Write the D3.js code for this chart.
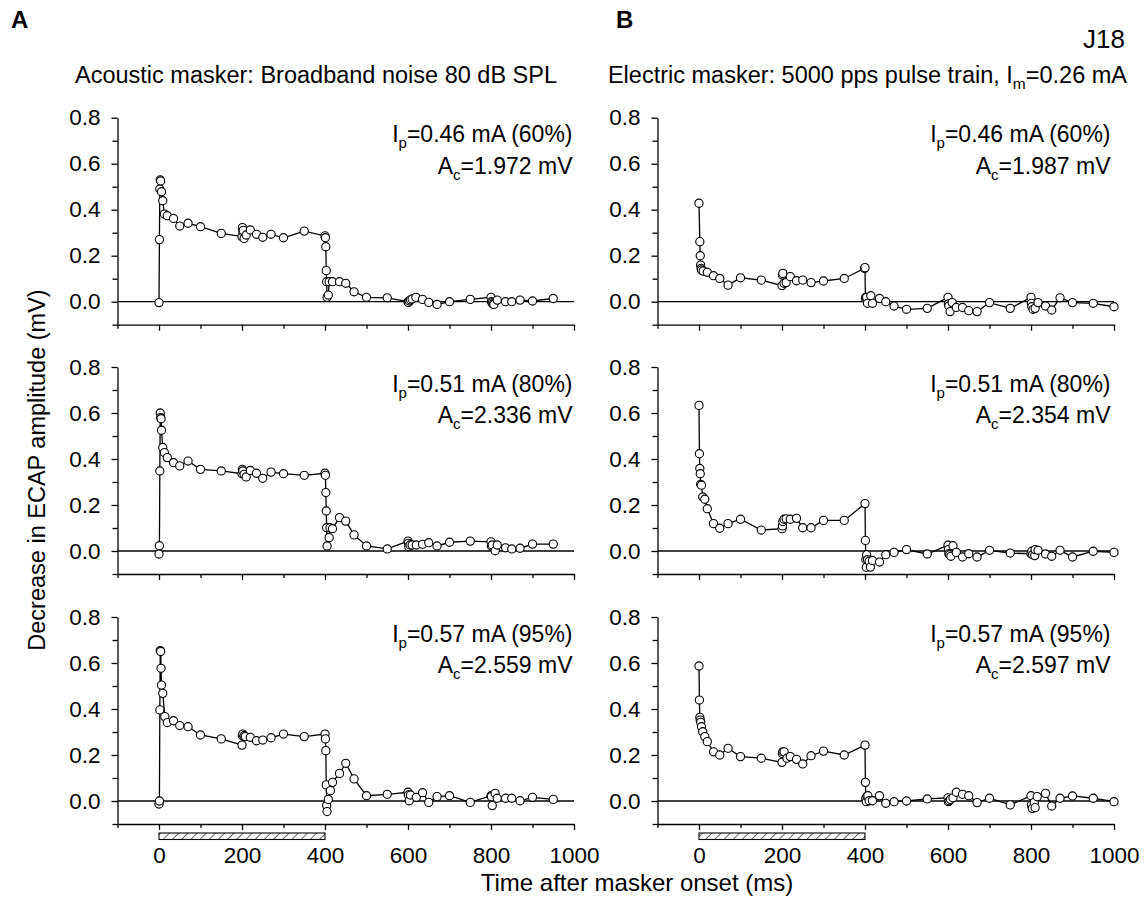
<!DOCTYPE html>
<html>
<head>
<meta charset="utf-8">
<script src="https://cdn.jsdelivr.net/npm/d3@7"></script>
<style>
  html, body { margin: 0; padding: 0; background: #fff; }
  svg { display: block; font-family: "Liberation Sans", Arial, Helvetica, sans-serif; }
</style>
</head>
<body>
<script>
// ---- Data: decrease in ECAP amplitude (mV) vs. time after masker onset (ms) ----

// Acoustic masker, probe 0.46 mA (60%)
const acoustic60Time = [0, 1, 2, 3, 4, 6, 9, 13, 20, 35, 50, 70, 100, 150, 200, 201, 202, 203, 205, 210, 220, 235, 250, 270, 300, 350, 400, 401, 402, 403, 404, 405, 408, 410, 418, 435, 450, 470, 500, 550, 600, 601, 603, 606, 610, 619, 635, 650, 670, 700, 750, 800, 801, 803, 805, 807, 815, 835, 850, 870, 900, 950];
const acoustic60Value = [-0.004, 0.27, 0.49, 0.53, 0.525, 0.478, 0.439, 0.381, 0.374, 0.362, 0.329, 0.341, 0.326, 0.297, 0.283, 0.322, 0.304, 0.31, 0.275, 0.29, 0.312, 0.293, 0.28, 0.293, 0.278, 0.307, 0.286, 0.278, 0.239, 0.135, 0.087, 0.019, 0.029, 0.087, 0.087, 0.087, 0.08, 0.043, 0.019, 0.017, 0.0, -0.003, 0.003, 0.008, 0.012, 0.019, 0.01, -0.003, -0.012, 0.0, 0.01, 0.019, 0.0, -0.005, -0.01, -0.012, 0.007, 0.0, 0.0, 0.007, 0.003, 0.014];

// Acoustic masker, probe 0.51 mA (80%)
const acoustic80Time = [0, 1, 2, 3, 4, 5, 6, 9, 13, 20, 35, 50, 70, 100, 150, 200, 201, 202, 205, 210, 220, 235, 250, 270, 300, 350, 400, 401, 402, 403, 404, 405, 410, 412, 418, 435, 450, 470, 500, 550, 600, 601, 602, 605, 610, 620, 635, 650, 670, 700, 750, 800, 801, 803, 810, 815, 835, 850, 870, 900, 950];
const acoustic80Value = [-0.013, 0.023, 0.348, 0.6, 0.58, 0.575, 0.525, 0.45, 0.428, 0.406, 0.384, 0.37, 0.391, 0.355, 0.348, 0.336, 0.355, 0.348, 0.333, 0.322, 0.35, 0.338, 0.316, 0.343, 0.336, 0.329, 0.338, 0.329, 0.254, 0.174, 0.101, 0.022, 0.058, 0.101, 0.097, 0.145, 0.13, 0.07, 0.022, 0.009, 0.043, 0.033, 0.019, 0.026, 0.026, 0.026, 0.029, 0.036, 0.022, 0.038, 0.043, 0.04, 0.022, 0.026, 0.001, 0.026, 0.014, 0.009, 0.012, 0.03, 0.03];

// Acoustic masker, probe 0.57 mA (95%)
const acoustic95Time = [0, 1, 2, 3, 4, 5, 6, 9, 14, 20, 35, 50, 70, 100, 150, 200, 201, 202, 205, 208, 220, 235, 250, 270, 300, 350, 400, 401, 402, 403, 404, 405, 408, 413, 418, 435, 450, 470, 500, 550, 600, 601, 603, 606, 620, 635, 650, 670, 700, 750, 800, 801, 803, 810, 815, 835, 850, 870, 900, 950];
const acoustic95Value = [-0.013, 0.0, 0.396, 0.654, 0.65, 0.577, 0.504, 0.468, 0.367, 0.341, 0.349, 0.328, 0.323, 0.287, 0.27, 0.243, 0.284, 0.291, 0.284, 0.28, 0.277, 0.262, 0.265, 0.275, 0.291, 0.28, 0.291, 0.27, 0.219, 0.07, -0.02, -0.046, 0.007, 0.045, 0.081, 0.12, 0.164, 0.096, 0.023, 0.029, 0.038, 0.026, 0.001, 0.026, 0.016, 0.036, -0.006, 0.019, 0.023, -0.006, 0.023, 0.019, -0.02, 0.033, 0.012, 0.012, 0.012, 0.001, 0.016, 0.007];

// Electric masker, probe 0.46 mA (60%)
const electric60Time = [0, 2, 3, 4, 5, 6, 10, 20, 35, 50, 70, 100, 150, 200, 201, 202, 205, 210, 220, 235, 250, 270, 300, 350, 399, 400, 401, 402, 404, 406, 414, 418, 435, 450, 470, 500, 550, 600, 601, 602, 605, 610, 620, 635, 650, 670, 700, 750, 800, 801, 802, 805, 810, 817, 835, 850, 870, 900, 950, 1000];
const electric60Value = [0.428, 0.261, 0.2, 0.159, 0.145, 0.138, 0.133, 0.128, 0.113, 0.101, 0.072, 0.104, 0.094, 0.07, 0.116, 0.123, 0.08, 0.083, 0.109, 0.091, 0.094, 0.083, 0.09, 0.101, 0.145, 0.148, 0.014, 0.019, 0.019, -0.007, 0.026, -0.007, 0.014, 0.0, -0.019, -0.033, -0.029, 0.019, -0.01, -0.019, -0.043, -0.004, -0.025, -0.025, -0.039, -0.043, -0.004, -0.029, 0.019, -0.007, -0.022, -0.033, -0.029, -0.004, -0.019, -0.036, 0.017, -0.004, -0.007, -0.022];

// Electric masker, probe 0.51 mA (80%)
const electric80Time = [0, 1, 2, 3, 4, 6, 9, 14, 20, 35, 50, 70, 100, 150, 200, 201, 202, 205, 210, 220, 235, 250, 270, 300, 350, 400, 401, 402, 403, 404, 406, 410, 413, 418, 435, 450, 470, 500, 550, 600, 601, 602, 604, 607, 612, 620, 635, 650, 670, 700, 750, 800, 802, 804, 809, 810, 817, 835, 850, 870, 900, 950, 1000];
const electric80Value = [0.633, 0.423, 0.359, 0.336, 0.29, 0.286, 0.235, 0.225, 0.184, 0.119, 0.099, 0.119, 0.138, 0.091, 0.097, 0.109, 0.128, 0.138, 0.14, 0.138, 0.142, 0.101, 0.101, 0.133, 0.133, 0.206, 0.046, -0.038, -0.071, -0.016, -0.038, -0.045, -0.07, -0.041, -0.048, -0.016, -0.006, 0.006, -0.013, 0.025, 0.006, -0.012, -0.016, -0.023, 0.023, -0.006, -0.026, -0.012, -0.026, 0.003, -0.009, -0.012, -0.001, -0.016, -0.02, 0.006, 0.003, -0.013, -0.023, 0.003, -0.026, -0.001, -0.006];

// Electric masker, probe 0.57 mA (95%)
const electric95Time = [0, 1, 2, 3, 4, 6, 9, 14, 20, 35, 50, 70, 100, 150, 200, 201, 202, 205, 212, 220, 235, 250, 270, 300, 350, 400, 401, 402, 403, 405, 407, 410, 418, 435, 450, 470, 500, 550, 600, 601, 603, 606, 612, 620, 635, 650, 670, 700, 750, 800, 801, 803, 808, 810, 815, 835, 850, 870, 900, 950, 1000];
const electric95Value = [0.587, 0.439, 0.364, 0.352, 0.342, 0.323, 0.301, 0.28, 0.258, 0.214, 0.2, 0.229, 0.193, 0.186, 0.168, 0.207, 0.214, 0.214, 0.186, 0.193, 0.181, 0.161, 0.197, 0.217, 0.2, 0.243, 0.081, 0.012, -0.003, 0.02, 0.023, 0.001, 0.001, 0.023, -0.01, -0.003, 0.0, 0.009, 0.014, -0.003, 0.001, 0.007, 0.014, 0.038, 0.029, 0.023, -0.007, 0.012, -0.017, 0.023, -0.017, -0.032, -0.006, -0.029, 0.019, 0.033, -0.022, 0.012, 0.022, 0.012, -0.003];

// Panel annotations
const probeLabels = ["0.46 mA (60%)", "0.51 mA (80%)", "0.57 mA (95%)"];
const acousticAc = ["1.972 mV", "2.336 mV", "2.559 mV"];
const electricAc = ["1.987 mV", "2.354 mV", "2.597 mV"];

// Axis ticks
const yMajorTicks = [0, 0.2, 0.4, 0.6, 0.8];
const yMinorTicks = [-0.1, 0.1, 0.3, 0.5, 0.7];
const xMajorTicks = [0, 200, 400, 600, 800, 1000];
const xMinorTicks = [-100, 100, 300, 500, 700, 900];
const maskerInterval = [0, 400];

// ---- Layout ----
const W = 1146, H = 902;
const colLeft = [117.5, 657.5];
const plotW = 456.5;
const rowTop = [117.7, 367, 617];
const plotH = 207;
const TICK_FONT = 22.5;

const svg = d3.select("body").append("svg")
  .attr("width", W).attr("height", H)
  .attr("viewBox", `0 0 ${W} ${H}`);

// diagonal hatch for the masker bar
const defs = svg.append("defs");
defs.append("pattern")
  .attr("id", "hatch")
  .attr("patternUnits", "userSpaceOnUse")
  .attr("width", 6.5).attr("height", 6.5)
  .attr("patternTransform", "rotate(45)")
  .append("line")
  .attr("x1", 0).attr("y1", 0).attr("x2", 0).attr("y2", 6.5)
  .attr("stroke", "#000").attr("stroke-width", 1.2);

const columns = [
  { series: [[acoustic60Time, acoustic60Value], [acoustic80Time, acoustic80Value], [acoustic95Time, acoustic95Value]], ac: acousticAc },
  { series: [[electric60Time, electric60Value], [electric80Time, electric80Value], [electric95Time, electric95Value]], ac: electricAc }
];

columns.forEach((col, ci) => {
  const x = d3.scaleLinear().domain([-100, 1000]).range([colLeft[ci], colLeft[ci] + plotW]);
  col.series.forEach(([times, values], ri) => {
    const y = d3.scaleLinear().domain([-0.1, 0.8]).range([rowTop[ri] + plotH, rowTop[ri]]);
    const g = svg.append("g");
    const isBottom = ri === 2;

    // y axis: labelled major ticks and unlabelled minor ticks
    g.append("g").attr("transform", `translate(${x(-100)},0)`)
      .call(d3.axisLeft(y).tickValues(yMajorTicks).tickSize(6).tickSizeOuter(0)
        .tickPadding(11).tickFormat(d3.format(".1f")));
    g.append("g").attr("transform", `translate(${x(-100)},0)`)
      .call(d3.axisLeft(y).tickValues(yMinorTicks).tickSize(5).tickSizeOuter(0).tickFormat(""))
      .select(".domain").remove();

    // x axis
    g.append("g").attr("transform", `translate(0,${y(-0.1)})`)
      .call(d3.axisBottom(x).tickValues(xMajorTicks).tickSize(6).tickSizeOuter(0)
        .tickPadding(17).tickFormat(isBottom ? d3.format("d") : ""));
    g.append("g").attr("transform", `translate(0,${y(-0.1)})`)
      .call(d3.axisBottom(x).tickValues(xMinorTicks).tickSize(4).tickSizeOuter(0).tickFormat(""))
      .select(".domain").remove();

    g.selectAll(".domain, .tick line").attr("stroke", "#000").attr("stroke-width", 1.3);
    g.selectAll(".tick text").attr("font-size", TICK_FONT).attr("fill", "#000")
      .attr("font-family", "Liberation Sans, Arial, sans-serif");

    // zero reference line
    g.append("line")
      .attr("x1", x(-100)).attr("x2", x(1000))
      .attr("y1", y(0)).attr("y2", y(0))
      .attr("stroke", "#000").attr("stroke-width", 1.3);

    // data trace
    const pts = times.map((t, i) => [t, values[i]]);
    g.append("path")
      .datum(pts)
      .attr("fill", "none").attr("stroke", "#000").attr("stroke-width", 1.3)
      .attr("d", d3.line().x(d => x(d[0])).y(d => y(d[1])));
    g.selectAll("circle").data(pts).join("circle")
      .attr("cx", d => x(d[0])).attr("cy", d => y(d[1]))
      .attr("r", 4.1)
      .attr("fill", "#fff").attr("stroke", "#000").attr("stroke-width", 1.1);

    // probe level and control amplitude
    const tx = x(1000) - (ci === 0 ? 1.5 : 3.5);
    const t1 = g.append("text").attr("x", tx).attr("y", rowTop[ri] + 24.5)
      .attr("text-anchor", "end").attr("font-size", 23);
    t1.append("tspan").text("I");
    t1.append("tspan").attr("font-size", 15).attr("dy", 6).text("p");
    t1.append("tspan").attr("dy", -6).text("=" + probeLabels[ri]);
    const t2 = g.append("text").attr("x", tx).attr("y", rowTop[ri] + 56)
      .attr("text-anchor", "end").attr("font-size", 23);
    t2.append("tspan").text("A");
    t2.append("tspan").attr("font-size", 15).attr("dy", 6).text("c");
    t2.append("tspan").attr("dy", -6).text("=" + col.ac[ri]);

    // masker-on bar under the bottom panels
    if (isBottom) {
      g.append("rect")
        .attr("x", x(maskerInterval[0])).attr("width", x(maskerInterval[1]) - x(maskerInterval[0]))
        .attr("y", y(-0.1) + 9).attr("height", 6.5)
        .attr("fill", "url(#hatch)").attr("stroke", "#000").attr("stroke-width", 1.1);
    }
  });
});

// ---- Headers and axis titles ----
svg.append("text").attr("x", 11).attr("y", 28).attr("font-size", 24).attr("font-weight", "bold").text("A");
svg.append("text").attr("x", 616).attr("y", 28).attr("font-size", 24).attr("font-weight", "bold").text("B");
svg.append("text").attr("x", 1125).attr("y", 48).attr("text-anchor", "end").attr("font-size", 26).text("J18");

svg.append("text").attr("x", 316).attr("y", 83).attr("text-anchor", "middle").attr("font-size", 23.5)
  .text("Acoustic masker: Broadband noise 80 dB SPL");
const eTitle = svg.append("text").attr("x", 1127).attr("y", 83).attr("text-anchor", "end").attr("font-size", 23.5);
eTitle.append("tspan").text("Electric masker: 5000 pps pulse train, I");
eTitle.append("tspan").attr("font-size", 15.5).attr("dy", 6).text("m");
eTitle.append("tspan").attr("dy", -6).text("=0.26 mA");

svg.append("text")
  .attr("transform", "translate(45,470) rotate(-90)")
  .attr("text-anchor", "middle").attr("font-size", 23.5)
  .text("Decrease in ECAP amplitude (mV)");
svg.append("text").attr("x", 637).attr("y", 891).attr("text-anchor", "middle").attr("font-size", 24)
  .text("Time after masker onset (ms)");
</script>
</body>
</html>
